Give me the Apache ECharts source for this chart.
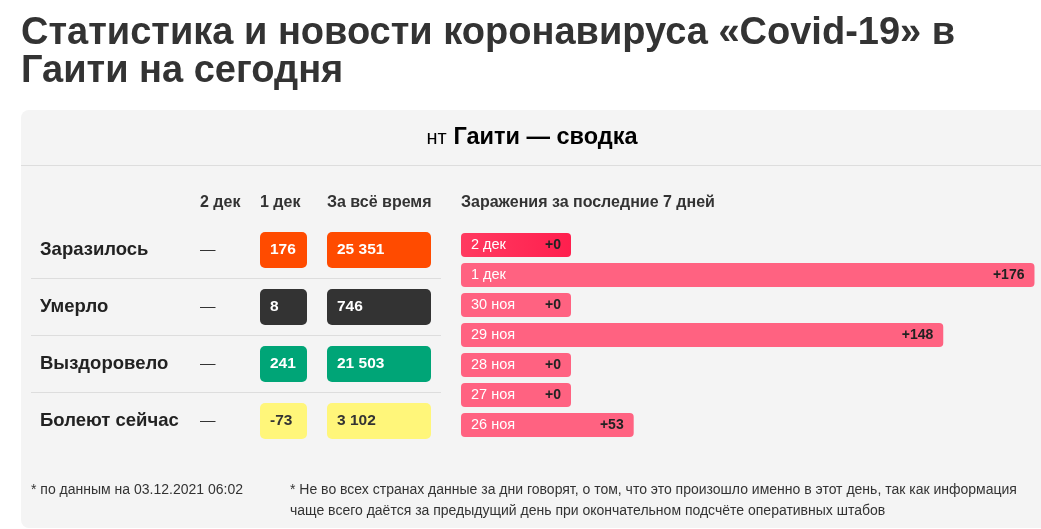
<!DOCTYPE html>
<html>
<head>
<meta charset="utf-8">
<script src="https://cdn.jsdelivr.net/npm/echarts@6/dist/echarts.min.js"></script>
<style>
html,body{margin:0;padding:0;background:#fff;}
#chart{width:1041px;height:529px;}
</style>
</head>
<body>
<div id="chart"></div>
<script>
// ---- data ----
const titleLines = ['Статистика и новости коронавируса «Covid-19» в', 'Гаити на сегодня'];
const summaryPrefix = 'нт';
const summaryTitle = 'Гаити — сводка';
const colHeaders = ['2 дек', '1 дек', 'За всё время'];
const rowLabels = ['Заразилось', 'Умерло', 'Выздоровело', 'Болеют сейчас'];
const dec2Values = [null, null, null, null];
const dec1Values = [176, 8, 241, -73];
const totalValues = [25351, 746, 21503, 3102];
const weekTitle = 'Заражения за последние 7 дней';
const weekDays = ['2 дек', '1 дек', '30 ноя', '29 ноя', '28 ноя', '27 ноя', '26 ноя'];
const weekCases = [0, 176, 0, 148, 0, 0, 53];
const footnoteLeft = '* по данным на 03.12.2021 06:02';
const footnoteRight = ['* Не во всех странах данные за дни говорят, о том, что это произошло именно в этот день, так как информация',
  'чаще всего даётся за предыдущий день при окончательном подсчёте оперативных штабов'];

// ---- styles ----
const FONT = '"Liberation Sans", Arial, sans-serif';
const rowColors = ['#ff4b00', '#333333', '#00a577', '#fff67a'];
const rowTextColors = ['#fff', '#fff', '#fff', '#333'];

function fmt(n) {
  if (n === null || n === undefined) return '—';
  return String(n).replace(/\B(?=(\d{3})+(?!\d))/g, ' ');
}

const chart = echarts.init(document.getElementById('chart'), null, {renderer: 'canvas'});

const g = [];
// title
titleLines.forEach((t, i) => {
  g.push({type: 'text', z: 5, style: {text: t, x: 21, y: 34 + i * 37.5, fill: '#333',
    font: 'bold 38px ' + FONT, textVerticalAlign: 'middle'}});
});
// panel
g.push({type: 'rect', z: 0, shape: {x: 21, y: 110, width: 1040, height: 418, r: 8}, style: {fill: '#f4f4f4'}});
g.push({type: 'line', z: 1, shape: {x1: 21, y1: 165.5, x2: 1041, y2: 165.5}, style: {stroke: '#dddddd', lineWidth: 1}});
g.push({type: 'text', z: 5, style: {
  text: '{a|' + summaryPrefix + '}  {b|' + summaryTitle + '}', x: 532, y: 138,
  textAlign: 'center', textVerticalAlign: 'middle',
  rich: {a: {fontSize: 20, fontFamily: FONT, color: '#333'}, b: {fontSize: 23.5, fontWeight: 'bold', fontFamily: FONT, color: '#333'}}
}});
// column headers
const colX = [200, 260, 327];
colHeaders.forEach((h, i) => {
  g.push({type: 'text', z: 5, style: {text: h, x: colX[i], y: 203, fill: '#333',
    font: 'bold 16px ' + FONT, textVerticalAlign: 'middle'}});
});
// rows
rowLabels.forEach((lab, i) => {
  const cy = 250 + i * 57;
  g.push({type: 'text', z: 5, style: {text: lab, x: 40, y: cy, fill: '#222',
    font: 'bold 18.5px ' + FONT, textVerticalAlign: 'middle'}});
  g.push({type: 'text', z: 5, style: {text: fmt(dec2Values[i]), x: 200, y: cy, fill: '#333',
    font: '15.5px ' + FONT, textVerticalAlign: 'middle'}});
  g.push({type: 'rect', z: 3, shape: {x: 260, y: cy - 18, width: 47, height: 36, r: 5}, style: {fill: rowColors[i]}});
  g.push({type: 'text', z: 5, style: {text: fmt(dec1Values[i]), x: 270, y: cy, fill: rowTextColors[i],
    font: 'bold 15.5px ' + FONT, textVerticalAlign: 'middle'}});
  g.push({type: 'rect', z: 3, shape: {x: 327, y: cy - 18, width: 104, height: 36, r: 5}, style: {fill: rowColors[i]}});
  g.push({type: 'text', z: 5, style: {text: fmt(totalValues[i]), x: 337, y: cy, fill: rowTextColors[i],
    font: 'bold 15.5px ' + FONT, textVerticalAlign: 'middle'}});
  if (i < rowLabels.length - 1) {
    g.push({type: 'line', z: 1, shape: {x1: 31, y1: cy + 28.5, x2: 441, y2: cy + 28.5}, style: {stroke: '#dddddd', lineWidth: 1}});
  }
});
// week title
g.push({type: 'text', z: 5, style: {text: weekTitle, x: 461, y: 203, fill: '#333',
  font: 'bold 16px ' + FONT, textVerticalAlign: 'middle'}});
// footnotes
g.push({type: 'text', z: 5, style: {text: footnoteLeft, x: 31, y: 490, fill: '#333',
  font: '14px ' + FONT, textVerticalAlign: 'middle'}});
footnoteRight.forEach((t, i) => {
  g.push({type: 'text', z: 5, style: {text: t, x: 290, y: 490 + i * 21, fill: '#333',
    font: '14px ' + FONT, textVerticalAlign: 'middle'}});
});

const barData = weekCases.map((v, i) => i === 0 ? {
  value: v,
  itemStyle: {color: new echarts.graphic.LinearGradient(0, 0, 1, 0, [{offset: 0, color: '#ff3a60'}, {offset: 1, color: '#ff1f4e'}])}
} : v);

chart.setOption({
  animation: false,
  textStyle: {fontFamily: FONT},
  graphic: {elements: g},
  grid: {left: 461, top: 230, width: 580, height: 210, containLabel: false},
  xAxis: {type: 'value', min: 0, max: 178, show: false},
  yAxis: {
    type: 'category', data: weekDays, inverse: true, z: 10,
    axisLine: {show: false}, axisTick: {show: false}, splitLine: {show: false},
    axisLabel: {inside: true, margin: 10, color: '#fff', fontSize: 14.5, fontFamily: FONT}
  },
  series: [{
    type: 'bar', data: barData, barWidth: 24, barMinHeight: 110,
    itemStyle: {color: '#ff6281', borderRadius: 4},
    label: {show: true, position: 'insideRight', distance: 10, formatter: p => '+' + p.value,
      color: '#222', fontWeight: 'bold', fontSize: 14, fontFamily: FONT}
  }]
});
</script>
</body>
</html>
